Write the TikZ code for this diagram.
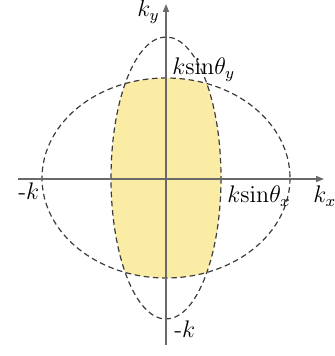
\documentclass[tikz,border=0pt]{standalone}
\usetikzlibrary{arrows.meta}
\definecolor{fillyellow}{RGB}{251,236,165}
\definecolor{axisgray}{RGB}{105,105,105}
\definecolor{dashgray}{RGB}{60,60,60}
\begin{document}
\begin{tikzpicture}[x=0.5pt,y=-0.5pt,
  axisline/.style={draw=axisgray,line width=0.75pt,-{Triangle[length=4pt,width=3pt]}},
  bound/.style={draw=dashgray,line width=0.6pt,dash pattern=on 2.8pt off 1.8pt},
  lbl/.style={inner sep=0pt,anchor=base west,font=\fontsize{12}{14}\selectfont}]
\useasboundingbox (0,0) rectangle (334,356);
\coordinate (O) at (166,178);
\begin{scope}
  \clip (O) ellipse [x radius=124, y radius=100];
  \fill[fillyellow] (O) ellipse [x radius=55, y radius=141];
\end{scope}
\draw[bound] (O) ellipse [x radius=124, y radius=100];
\draw[bound] (O) ellipse [x radius=55, y radius=141];
\coordinate (xl) at (18,179);
\coordinate (xr) at (324,179);
\coordinate (yb) at (166,345);
\coordinate (yt) at (166,4);
\draw[axisline] (xl) -- (xr);
\draw[axisline] (yb) -- (yt);
\node[lbl] (ky) at (137,17) {$k_y$};
\node[lbl] (ksy) at (172,75) {$k\mathrm{sin}\theta_y$};
\node[lbl] (mkl) at (18,200) {-$k$};
\node[lbl] (ksx) at (227,203) {$k\mathrm{sin}\theta_x$};
\node[lbl] (kx) at (313,203) {$k_x$};
\node[lbl] (mkb) at (174,337) {-$k$};
\end{tikzpicture}
\end{document}
